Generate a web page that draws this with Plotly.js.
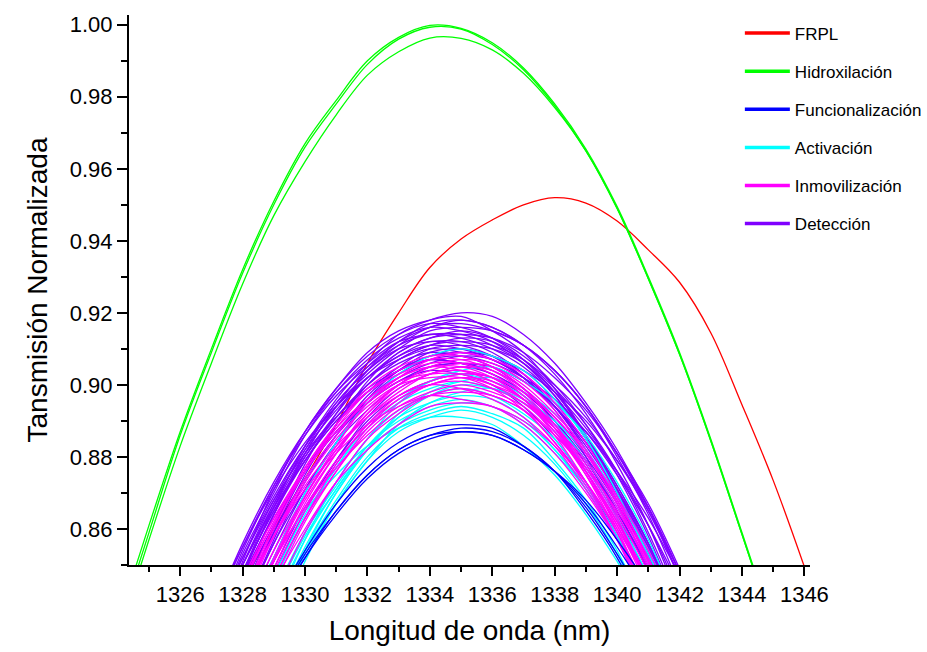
<!DOCTYPE html>
<html>
<head>
<meta charset="utf-8">
<script src="https://cdn.plot.ly/plotly-3.0.1.min.js"></script>
<style>html,body{margin:0;padding:0;background:#fff;}#chart{width:927px;height:652px;}</style>
</head>
<body>
<div id="chart"></div>
<script>
// ---- Data ----
const groupNames = ['FRPL', 'Hidroxilación', 'Funcionalización', 'Activación', 'Inmovilización', 'Detección'];
const groupColors = ['#FF0000', '#00FF00', '#0000FF', '#00FFFF', '#FF00FF', '#8000FF'];

// FRPL
const frplX = [1328,1329,1330,1331,1332,1333,1334,1335,1336,1337,1338,1339,1340,1341,1342,1343,1344,1345,1346];
const frplY = [0.845,0.860,0.874,0.889,0.906,0.920,0.9326,0.9405,0.9458,0.950,0.952,0.9505,0.9455,0.9375,0.9285,0.9145,0.8945,0.8735,0.8495];

// Hidroxilación
const hidroxX = [1324,1325,1326,1327,1328,1329,1330,1331,1332,1333,1334,1335,1336,1337,1338,1339,1340,1341,1342,1343,1344,1345];
const hidrox1 = [0.834,0.861,0.887,0.910,0.932,0.951,0.967,0.979,0.990,0.9965,0.9998,0.999,0.995,0.988,0.978,0.9655,0.9495,0.930,0.909,0.885,0.859,0.833];
const hidrox2 = [0.832,0.859,0.886,0.909,0.931,0.950,0.966,0.978,0.989,0.996,0.9993,0.9988,0.9945,0.9875,0.9775,0.965,0.949,0.9295,0.9085,0.8845,0.8585,0.8325];
const hidrox3 = [0.830,0.857,0.883,0.906,0.928,0.947,0.962,0.975,0.986,0.9925,0.9963,0.9962,0.993,0.9865,0.977,0.965,0.949,0.9295,0.9085,0.8845,0.8585,0.8325];

// Shared wavelength grid for the clustered curves
const clusterX = [1327,1328,1329,1330,1331,1332,1333,1334,1335,1336,1337,1338,1339,1340,1341,1342];

// Funcionalización
const funcionalizacion = [
  [0.800,0.821,0.839,0.854,0.867,0.877,0.884,0.888,0.889,0.888,0.883,0.876,0.865,0.852,0.835,0.816],
  [0.798,0.819,0.838,0.853,0.865,0.875,0.882,0.886,0.888,0.887,0.883,0.876,0.866,0.853,0.838,0.819],
  [0.798,0.819,0.837,0.852,0.865,0.875,0.882,0.886,0.887,0.886,0.882,0.876,0.867,0.855,0.841,0.824],
  [0.797,0.818,0.837,0.852,0.864,0.874,0.881,0.885,0.887,0.886,0.882,0.876,0.868,0.857,0.844,0.828]
];

// Activación
const activacion = [
  [0.808,0.832,0.852,0.870,0.884,0.895,0.903,0.908,0.910,0.908,0.904,0.896,0.885,0.870,0.852,0.831],
  [0.797,0.821,0.841,0.859,0.873,0.885,0.893,0.897,0.899,0.897,0.892,0.885,0.873,0.859,0.841,0.821],
  [0.789,0.815,0.837,0.857,0.873,0.885,0.895,0.901,0.904,0.905,0.901,0.895,0.886,0.873,0.857,0.837],
  [0.801,0.825,0.845,0.863,0.877,0.889,0.896,0.901,0.903,0.901,0.897,0.888,0.877,0.863,0.845,0.824],
  [0.805,0.828,0.847,0.864,0.877,0.888,0.895,0.899,0.901,0.899,0.895,0.887,0.877,0.863,0.847,0.827],
  [0.783,0.809,0.831,0.851,0.867,0.879,0.889,0.895,0.898,0.899,0.895,0.889,0.879,0.866,0.850,0.831],
  [0.795,0.819,0.839,0.857,0.871,0.883,0.891,0.895,0.897,0.896,0.891,0.882,0.871,0.857,0.839,0.818],
  [0.799,0.822,0.841,0.858,0.871,0.882,0.889,0.893,0.895,0.894,0.889,0.881,0.871,0.857,0.841,0.821],
  [0.791,0.815,0.835,0.853,0.867,0.879,0.887,0.891,0.893,0.891,0.886,0.878,0.867,0.853,0.835,0.814],
  [0.818,0.836,0.852,0.865,0.875,0.883,0.888,0.891,0.891,0.889,0.883,0.875,0.864,0.851,0.836,0.818],
  [0.792,0.816,0.837,0.855,0.870,0.882,0.891,0.897,0.900,0.899,0.896,0.890,0.881,0.869,0.854,0.836],
  [0.786,0.812,0.834,0.854,0.870,0.882,0.892,0.898,0.901,0.902,0.898,0.892,0.882,0.869,0.853,0.834],
  [0.792,0.816,0.836,0.854,0.868,0.880,0.888,0.892,0.894,0.892,0.888,0.879,0.868,0.854,0.836,0.815],
  [0.800,0.823,0.842,0.859,0.872,0.883,0.890,0.894,0.896,0.894,0.890,0.882,0.872,0.858,0.842,0.822]
];

// Inmovilización
const inmovilizacion = [
  [0.807,0.831,0.851,0.869,0.883,0.895,0.902,0.907,0.909,0.907,0.903,0.895,0.884,0.869,0.851,0.831],
  [0.818,0.840,0.860,0.876,0.888,0.898,0.904,0.907,0.907,0.904,0.898,0.888,0.875,0.859,0.840,0.818],
  [0.805,0.829,0.849,0.867,0.881,0.893,0.900,0.905,0.907,0.906,0.901,0.893,0.881,0.867,0.849,0.829],
  [0.810,0.833,0.852,0.869,0.882,0.892,0.900,0.904,0.906,0.905,0.900,0.892,0.882,0.868,0.852,0.832],
  [0.826,0.846,0.863,0.877,0.888,0.896,0.902,0.905,0.904,0.901,0.896,0.888,0.876,0.862,0.845,0.826],
  [0.814,0.835,0.854,0.869,0.882,0.891,0.898,0.903,0.904,0.902,0.898,0.891,0.881,0.869,0.854,0.835],
  [0.819,0.840,0.858,0.873,0.885,0.894,0.900,0.902,0.902,0.899,0.893,0.884,0.872,0.857,0.839,0.818],
  [0.806,0.829,0.848,0.865,0.878,0.889,0.896,0.900,0.902,0.901,0.896,0.888,0.878,0.864,0.848,0.828],
  [0.811,0.832,0.851,0.866,0.879,0.888,0.895,0.900,0.901,0.899,0.895,0.888,0.879,0.866,0.850,0.832],
  [0.821,0.841,0.858,0.872,0.883,0.891,0.897,0.900,0.899,0.896,0.891,0.883,0.871,0.857,0.841,0.821],
  [0.797,0.821,0.841,0.859,0.873,0.885,0.892,0.897,0.899,0.897,0.893,0.884,0.873,0.859,0.842,0.821],
  [0.815,0.834,0.851,0.866,0.877,0.886,0.893,0.897,0.898,0.897,0.893,0.886,0.877,0.865,0.851,0.834],
  [0.824,0.842,0.858,0.871,0.881,0.889,0.894,0.897,0.896,0.894,0.889,0.881,0.870,0.857,0.842,0.824],
  [0.805,0.826,0.845,0.860,0.873,0.882,0.889,0.894,0.895,0.894,0.890,0.883,0.873,0.860,0.845,0.826],
  [0.819,0.841,0.861,0.877,0.889,0.899,0.905,0.908,0.908,0.905,0.899,0.889,0.876,0.860,0.841,0.819],
  [0.823,0.844,0.862,0.877,0.889,0.898,0.903,0.906,0.906,0.903,0.897,0.888,0.876,0.861,0.843,0.822],
  [0.809,0.832,0.851,0.868,0.881,0.892,0.899,0.903,0.905,0.904,0.899,0.891,0.881,0.867,0.851,0.831],
  [0.801,0.825,0.846,0.863,0.878,0.889,0.897,0.901,0.903,0.902,0.896,0.889,0.877,0.863,0.845,0.825],
  [0.816,0.838,0.858,0.874,0.886,0.896,0.902,0.905,0.905,0.902,0.896,0.886,0.873,0.857,0.838,0.816],
  [0.804,0.827,0.846,0.863,0.876,0.887,0.894,0.898,0.900,0.898,0.894,0.886,0.876,0.862,0.846,0.826],
  [0.825,0.845,0.862,0.876,0.887,0.895,0.901,0.903,0.903,0.900,0.895,0.887,0.875,0.861,0.845,0.825],
  [0.800,0.824,0.844,0.862,0.876,0.888,0.896,0.900,0.902,0.900,0.896,0.887,0.876,0.862,0.844,0.823]
];

// Detección
const deteccion = [
  [0.824,0.847,0.866,0.883,0.896,0.906,0.914,0.918,0.920,0.919,0.914,0.906,0.895,0.882,0.866,0.846],
  [0.829,0.851,0.871,0.887,0.899,0.909,0.915,0.918,0.919,0.915,0.909,0.899,0.886,0.870,0.851,0.829],
  [0.822,0.845,0.864,0.881,0.894,0.905,0.912,0.917,0.918,0.916,0.911,0.904,0.894,0.880,0.864,0.844],
  [0.833,0.854,0.872,0.887,0.899,0.908,0.914,0.917,0.916,0.913,0.907,0.898,0.886,0.871,0.853,0.832],
  [0.826,0.847,0.866,0.881,0.894,0.903,0.910,0.915,0.916,0.915,0.911,0.904,0.894,0.881,0.865,0.847],
  [0.813,0.837,0.857,0.875,0.889,0.901,0.909,0.913,0.915,0.913,0.908,0.900,0.889,0.875,0.858,0.837],
  [0.835,0.855,0.872,0.886,0.897,0.905,0.911,0.914,0.913,0.910,0.905,0.897,0.885,0.871,0.855,0.835],
  [0.817,0.840,0.859,0.876,0.889,0.900,0.907,0.911,0.913,0.912,0.907,0.899,0.889,0.876,0.859,0.839],
  [0.822,0.844,0.864,0.880,0.892,0.902,0.908,0.912,0.911,0.908,0.902,0.893,0.880,0.863,0.844,0.822],
  [0.821,0.842,0.861,0.876,0.889,0.898,0.905,0.910,0.911,0.910,0.906,0.898,0.888,0.876,0.861,0.842],
  [0.808,0.832,0.852,0.870,0.884,0.896,0.904,0.908,0.910,0.908,0.903,0.895,0.884,0.870,0.853,0.832],
  [0.825,0.846,0.864,0.879,0.891,0.900,0.906,0.909,0.908,0.905,0.899,0.890,0.878,0.864,0.846,0.825],
  [0.812,0.835,0.854,0.871,0.884,0.895,0.902,0.906,0.908,0.907,0.902,0.894,0.884,0.870,0.854,0.834],
  [0.828,0.848,0.865,0.879,0.890,0.898,0.904,0.907,0.906,0.903,0.898,0.890,0.879,0.865,0.848,0.828],
  [0.816,0.837,0.856,0.871,0.884,0.893,0.900,0.905,0.906,0.905,0.901,0.894,0.884,0.871,0.856,0.837],
  [0.803,0.827,0.847,0.865,0.879,0.891,0.899,0.903,0.905,0.903,0.898,0.890,0.879,0.865,0.848,0.827],
  [0.820,0.841,0.859,0.874,0.886,0.895,0.901,0.904,0.903,0.900,0.894,0.885,0.873,0.858,0.840,0.819],
  [0.807,0.830,0.849,0.866,0.879,0.890,0.897,0.901,0.903,0.902,0.897,0.889,0.879,0.865,0.849,0.829],
  [0.825,0.844,0.861,0.876,0.887,0.896,0.903,0.907,0.908,0.906,0.902,0.896,0.887,0.875,0.861,0.844],
  [0.829,0.848,0.865,0.880,0.891,0.900,0.907,0.911,0.912,0.911,0.907,0.900,0.891,0.879,0.865,0.848],
  [0.837,0.855,0.871,0.884,0.894,0.902,0.907,0.910,0.909,0.907,0.902,0.894,0.883,0.870,0.855,0.837],
  [0.829,0.847,0.863,0.876,0.887,0.895,0.901,0.905,0.906,0.905,0.901,0.895,0.887,0.876,0.863,0.847],
  [0.831,0.850,0.867,0.882,0.893,0.902,0.909,0.913,0.914,0.913,0.909,0.902,0.893,0.881,0.867,0.849],
  [0.832,0.853,0.870,0.886,0.898,0.907,0.913,0.916,0.915,0.912,0.906,0.897,0.885,0.870,0.852,0.831],
  [0.816,0.840,0.860,0.878,0.892,0.904,0.912,0.916,0.918,0.916,0.911,0.903,0.892,0.878,0.861,0.840],
  [0.832,0.852,0.869,0.883,0.894,0.902,0.908,0.911,0.910,0.907,0.902,0.894,0.882,0.868,0.852,0.832],
  [0.832,0.850,0.866,0.879,0.890,0.898,0.904,0.908,0.909,0.908,0.904,0.898,0.890,0.879,0.866,0.848],
  [0.829,0.850,0.868,0.883,0.895,0.904,0.910,0.912,0.912,0.909,0.903,0.894,0.882,0.867,0.849,0.828],
  [0.827,0.848,0.867,0.882,0.895,0.904,0.911,0.916,0.917,0.915,0.911,0.904,0.894,0.881,0.866,0.848],
  [0.834,0.852,0.868,0.881,0.891,0.899,0.904,0.907,0.906,0.904,0.899,0.891,0.880,0.867,0.852,0.834],
  [0.836,0.856,0.873,0.887,0.898,0.906,0.912,0.914,0.914,0.911,0.906,0.898,0.886,0.872,0.856,0.836],
  [0.814,0.837,0.856,0.873,0.886,0.897,0.904,0.909,0.910,0.908,0.904,0.896,0.886,0.872,0.856,0.836]
];

// Axis ticks
const xTickVals = [1326,1328,1330,1332,1334,1336,1338,1340,1342,1344,1346];
const yTickVals = [0.86,0.88,0.90,0.92,0.94,0.96,0.98,1.00];

// ---- Build traces ----
const LW = 1.3;
const traces = [];
// legend entries (thick line samples)
groupNames.forEach((name, i) => {
  traces.push({
    type: 'scatter', mode: 'lines', x: [null], y: [null],
    name: name, legendgroup: 'g' + i, showlegend: true,
    line: {color: groupColors[i], width: 3.5}, hoverinfo: 'skip'
  });
});
function addLine(x, y, gi) {
  traces.push({
    type: 'scatter', mode: 'lines', x: x, y: y,
    name: groupNames[gi], legendgroup: 'g' + gi, showlegend: false,
    line: {color: groupColors[gi], width: LW, shape: 'spline', smoothing: 1},
    hoverinfo: 'skip'
  });
}
addLine(frplX, frplY, 0);
[hidrox1, hidrox2, hidrox3].forEach(y => addLine(hidroxX, y, 1));
deteccion.forEach(y => addLine(clusterX, y, 5));
activacion.forEach(y => addLine(clusterX, y, 3));
inmovilizacion.forEach(y => addLine(clusterX, y, 4));
funcionalizacion.forEach(y => addLine(clusterX, y, 2));

const FONT = 'Arial, "Liberation Sans", sans-serif';
const layout = {
  width: 927, height: 652,
  margin: {l: 129, r: 117, t: 15, b: 87, pad: 0, autoexpand: false},
  paper_bgcolor: '#ffffff', plot_bgcolor: '#ffffff',
  font: {family: FONT, color: '#000000'},
  showlegend: true,
  legend: {
    x: 0.897, y: 0.999, xanchor: 'left', yanchor: 'top',
    bgcolor: 'rgba(0,0,0,0)', borderwidth: 0,
    font: {family: FONT, size: 17, color: '#000000'},
    tracegroupgap: 13, itemwidth: 45, traceorder: 'grouped'
  },
  xaxis: {
    range: [1324.36, 1346.18], autorange: false,
    tickmode: 'array', tickvals: xTickVals, ticktext: xTickVals.map(String),
    ticks: 'outside', ticklen: 9, tickwidth: 2, tickcolor: '#000',
    showline: true, linewidth: 2, linecolor: '#000', mirror: false,
    showgrid: false, zeroline: false,
    tickfont: {family: FONT, size: 22, color: '#000'},
    minor: {dtick: 1, tick0: 1325, ticks: 'outside', ticklen: 5, tickwidth: 2, tickcolor: '#000', showgrid: false},
    title: {text: 'Longitud de onda (nm)', font: {family: FONT, size: 28, color: '#000'}, standoff: 14}
  },
  yaxis: {
    range: [0.85, 1.0027], autorange: false,
    tickmode: 'array', tickvals: yTickVals, ticktext: yTickVals.map(v => v.toFixed(2)),
    ticks: 'outside', ticklen: 10, tickwidth: 2, tickcolor: '#000',
    showline: true, linewidth: 2, linecolor: '#000', mirror: false,
    showgrid: false, zeroline: false,
    tickfont: {family: FONT, size: 22, color: '#000'},
    minor: {dtick: 0.01, tick0: 0.85, ticks: 'outside', ticklen: 6, tickwidth: 2, tickcolor: '#000', showgrid: false},
    title: {text: 'Tansmisión Normalizada', font: {family: FONT, size: 28, color: '#000'}, standoff: 14}
  }
};

Plotly.newPlot('chart', traces, layout, {displayModeBar: false, staticPlot: true});
</script>
</body>
</html>
